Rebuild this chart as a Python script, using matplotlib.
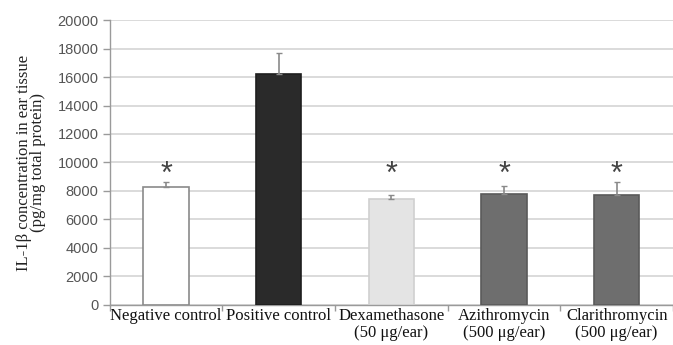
import matplotlib
matplotlib.use("Agg")
import matplotlib.pyplot as plt
import numpy as np

categories = ["Negative control", "Positive control", "Dexamethasone\n(50 \u03bcg/ear)",
              "Azithromycin\n(500 \u03bcg/ear)", "Clarithromycin\n(500 \u03bcg/ear)"]
values = [8300, 16200, 7450, 7800, 7750]
errors = [300, 1500, 250, 550, 850]
significant = [True, False, True, True, True]
star_level = 9100
y_ticks = list(range(0, 20001, 2000))

fill_colors = ["#ffffff", "#2a2a2a", "#e4e4e4", "#6e6e6e", "#6e6e6e"]
edge_colors = ["#8a8a8a", "#1e1e1e", "#d0d0d0", "#5a5a5a", "#5a5a5a"]

fig = plt.figure(figsize=(6.73, 3.45), dpi=100)
ax = fig.add_axes([0.163, 0.116, 0.837, 0.826])

x = np.arange(len(categories))
ax.bar(x, values, width=0.4, color=fill_colors, edgecolor=edge_colors, linewidth=1.2, zorder=3)
ax.errorbar(x, values, yerr=[np.zeros(len(errors)), errors], fmt="none",
            ecolor="#8a8a8a", elinewidth=1.2, capsize=2.5, capthick=1.0, zorder=4)

# significance stars sit at a common height
for xi, s in zip(x, significant):
    if s:
        ax.text(xi, star_level, "*", ha="center", va="center", fontsize=22,
                color="#444444", family="Liberation Sans")

ax.set_xlim(-0.5, len(categories) - 0.5)
ax.set_ylim(0, 20000)
ax.set_yticks(y_ticks)
ax.set_yticklabels([str(t) for t in y_ticks], family="Liberation Sans", fontsize=10.5, color="#555555")
ax.yaxis.grid(True, color="#d4d4d4", linewidth=1.2, zorder=0)
ax.set_axisbelow(True)

ax.set_xticks(x)
ax.set_xticklabels(categories, family="Liberation Serif", fontsize=12, color="#111111",
                   linespacing=1.1)
ax.set_xticks(np.arange(len(categories) + 1) - 0.5, minor=True)
ax.tick_params(axis="x", which="major", length=0, pad=2)
ax.tick_params(axis="x", which="minor", length=4, color="#9a9a9a", width=1)
ax.tick_params(axis="y", length=5, color="#9a9a9a", width=1, pad=3)

for side in ["top", "right"]:
    ax.spines[side].set_visible(False)
for side in ["left", "bottom"]:
    ax.spines[side].set_color("#9a9a9a")
    ax.spines[side].set_linewidth(1.0)

ax.set_ylabel("IL-1\u03b2 concentration in ear tissue\n(pg/mg total protein)",
              family="Liberation Serif", fontsize=12, color="#222222", linespacing=0.9,
              labelpad=8)

fig.savefig("out.png", dpi=100)
